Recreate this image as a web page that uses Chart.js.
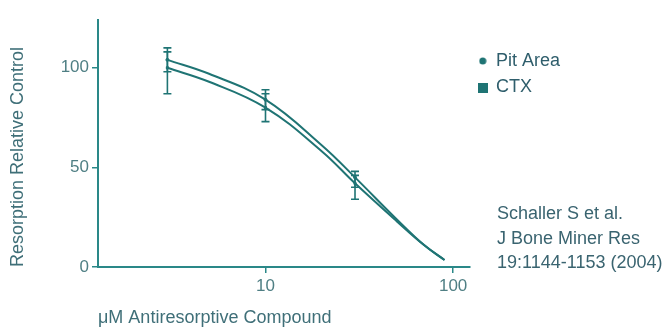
<!DOCTYPE html>
<html>
<head>
<meta charset="utf-8">
<script src="https://cdn.jsdelivr.net/npm/chart.js@4/dist/chart.umd.min.js"></script>
<style>
  html, body { margin: 0; padding: 0; background: #fff; }
  .wrap { position: relative; width: 668px; height: 327px; }
  #chart { display: block; }
  .cite {
    position: absolute; left: 497px; top: 201px;
    font: 18px "Liberation Sans", Arial, sans-serif;
    line-height: 24.5px; color: #3a6470; white-space: nowrap;
  }
</style>
</head>
<body>
<div class="wrap">
  <canvas id="chart" width="668" height="327"></canvas>
  <div class="cite">Schaller S et al.<br>J Bone Miner Res<br>19:1144-1153 (2004)</div>
</div>
<script>
// measured points (mean, error bar ends)
const doses = [3, 10, 30];
const pitMean = [104, 84, 45];
const pitLow = [98, 79, 40];
const pitHigh = [110, 89, 48];
const ctxMean = [100, 80, 42];
const ctxLow = [87, 73, 34];
const ctxHigh = [108, 87, 46];

// fitted curves
const curveDoses = [3, 5, 10, 20, 30, 50, 70, 90];
const pitCurve = [104, 97, 84, 61, 45, 24, 11, 3.5];
const ctxCurve = [100, 93, 80, 58, 42, 23, 11, 3.5];

const xTicks = [10, 100];
const yTicks = [0, 50, 100];

const teal = "#1f7474";
const axisTeal = "#2a8888";
const font = "'Liberation Sans', Arial, sans-serif";

const pts = (xs, ys) => xs.map((x, i) => ({ x: x, y: ys[i] }));

// small swatches for the legend (dot smaller than the square, as in the figure)
function swatch(kind) {
  const c = document.createElement("canvas");
  const s = kind === "circle" ? 8 : 10;
  c.width = s; c.height = s;
  const g = c.getContext("2d");
  g.fillStyle = teal;
  if (kind === "circle") {
    g.beginPath(); g.arc(s / 2, s / 2, 3.5, 0, Math.PI * 2); g.fill();
  } else {
    g.fillRect(0, 0, s, s);
  }
  return c;
}
const legendIcons = { circle: swatch("circle"), rect: swatch("rect") };

const errorBars = {
  id: "errorBars",
  afterDatasetsDraw(chart) {
    const { ctx, scales: { x, y } } = chart;
    chart.data.datasets.forEach(ds => {
      if (!ds.errLow) return;
      ctx.save();
      ctx.strokeStyle = teal;
      ctx.lineWidth = 1.6;
      ds.data.forEach((p, i) => {
        const px = x.getPixelForValue(p.x);
        const top = y.getPixelForValue(ds.errHigh[i]);
        const bot = y.getPixelForValue(ds.errLow[i]);
        ctx.beginPath();
        ctx.moveTo(px, top); ctx.lineTo(px, bot);
        ctx.moveTo(px - 4, top); ctx.lineTo(px + 4, top);
        ctx.moveTo(px - 4, bot); ctx.lineTo(px + 4, bot);
        ctx.stroke();
      });
      ctx.restore();
    });
  }
};

new Chart(document.getElementById("chart"), {
  type: "line",
  data: {
    datasets: [
      {
        label: "Pit Area", data: pts(doses, pitMean), errLow: pitLow, errHigh: pitHigh,
        showLine: false, pointStyle: "circle", pointRadius: 1.5,
        backgroundColor: teal, borderColor: teal
      },
      {
        label: "CTX", data: pts(doses, ctxMean), errLow: ctxLow, errHigh: ctxHigh,
        showLine: false, pointStyle: "rect", pointRadius: 1.5,
        backgroundColor: teal, borderColor: teal
      },
      {
        label: "Pit Area fit", data: pts(curveDoses, pitCurve),
        borderColor: teal, borderWidth: 2, pointRadius: 0, tension: 0.4
      },
      {
        label: "CTX fit", data: pts(curveDoses, ctxCurve),
        borderColor: teal, borderWidth: 2, pointRadius: 0, tension: 0.4
      }
    ]
  },
  options: {
    responsive: false,
    animation: false,
    layout: { padding: { top: 20, right: 98, bottom: 0, left: 0 } },
    plugins: {
      tooltip: { enabled: false },
      legend: {
        position: "right",
        align: "start",
        title: { display: true, text: "", font: { size: 12, lineHeight: 1.2 }, padding: { top: 0, bottom: 9.1 } },
        labels: {
          usePointStyle: true,
          boxWidth: 8.5,
          padding: 8.5,
          color: "#2f5e6c",
          font: { family: font, size: 18 },
          filter: item => !item.text.endsWith("fit"),
          generateLabels(chart) {
            const items = Chart.defaults.plugins.legend.labels.generateLabels(chart);
            items.forEach(it => { it.pointStyle = legendIcons[it.pointStyle] || it.pointStyle; });
            return items;
          }
        }
      }
    },
    scales: {
      x: {
        type: "logarithmic",
        min: 1.28,
        max: 123,
        afterBuildTicks: s => { s.ticks = xTicks.map(v => ({ value: v })); },
        afterFit: s => { s.height = 60; },
        ticks: { callback: v => String(v), color: "#4f7f84", font: { family: font, size: 17 }, padding: 3, maxRotation: 0 },
        grid: { drawOnChartArea: false, color: axisTeal, tickLength: 6, lineWidth: 1.5 },
        border: { color: axisTeal, width: 2 },
        title: {
          display: true, text: "μM Antiresorptive Compound", align: "start",
          color: "#3f6f78", font: { family: font, size: 18 }, padding: { top: 0, bottom: -2 }
        }
      },
      y: {
        min: 0,
        max: 124,
        afterBuildTicks: s => { s.ticks = yTicks.map(v => ({ value: v })); },
        afterFit: s => { s.width = 98; },
        ticks: { color: "#4f7f84", font: { family: font, size: 17 }, padding: 3 },
        grid: { drawOnChartArea: false, color: axisTeal, tickLength: 6, lineWidth: 1.5 },
        border: { color: axisTeal, width: 2 },
        title: {
          display: true, text: "Resorption Relative Control", align: "start",
          color: "#3f6f78", font: { family: font, size: 18 }, padding: { top: 7.7, bottom: 0 }
        }
      }
    }
  },
  plugins: [errorBars]
});
</script>
</body>
</html>
